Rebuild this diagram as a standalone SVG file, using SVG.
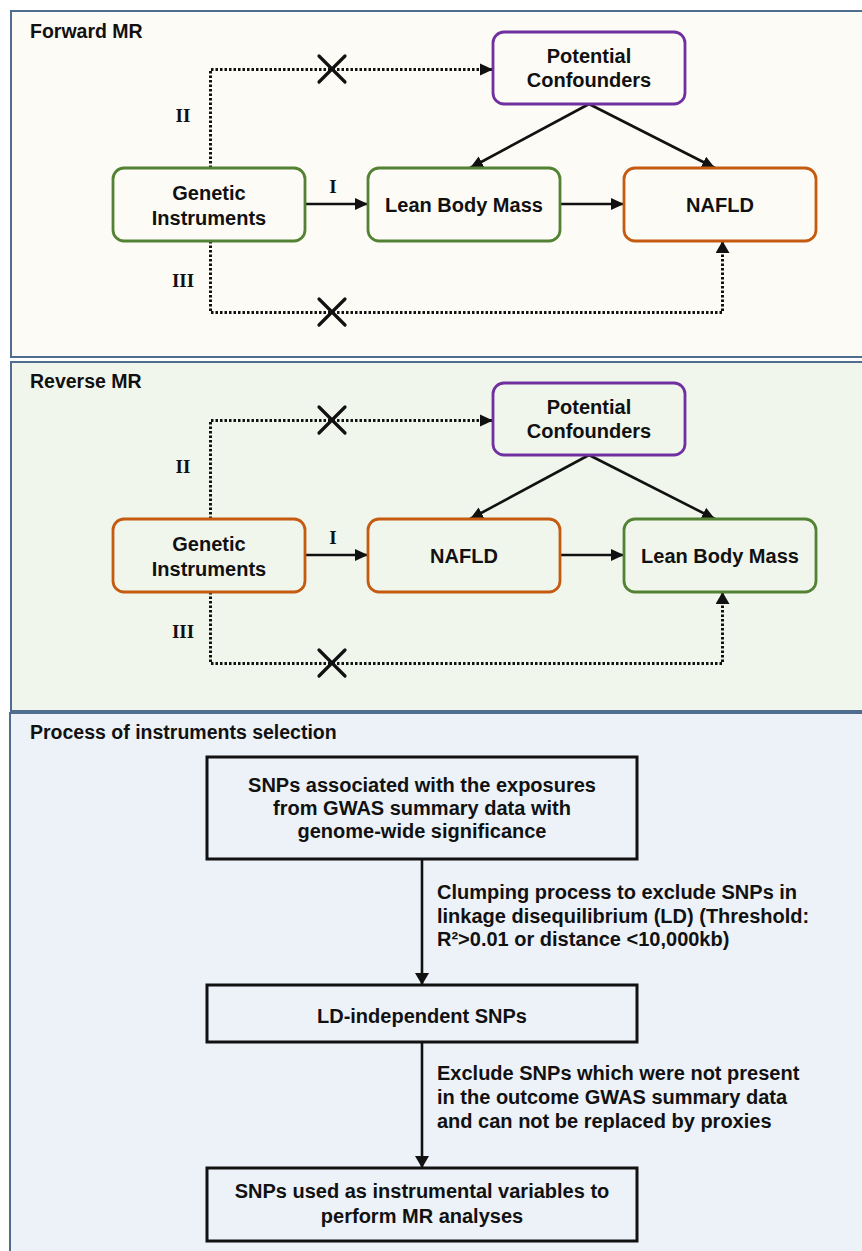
<svg xmlns="http://www.w3.org/2000/svg" width="862" height="1251" viewBox="0 0 862 1251">
<style>
.panel{stroke:#4f6d8f;stroke-width:2}
.h{font-family:"Liberation Sans",Arial,sans-serif;font-weight:bold;font-size:19.5px;fill:#111}
.t3{font-family:"Liberation Sans",Arial,sans-serif;font-weight:bold;font-size:20px;fill:#111}
.c{text-anchor:middle}
.n{font-family:"Liberation Sans",Arial,sans-serif;font-weight:bold;font-size:20px;fill:#111;text-anchor:middle}
.r{font-family:"Liberation Serif","Times New Roman",serif;font-weight:bold;font-size:19px;fill:#111;text-anchor:middle}
.box{stroke-width:2.8}
.g{stroke:#548235}
.o{stroke:#c55a11}
.p{stroke:#7030a0}
.sq{fill:none;stroke:#111;stroke-width:3}
.solid{fill:none;stroke:#111;stroke-width:2.6}
.dot{fill:none;stroke:#111;stroke-width:3;stroke-dasharray:2.5 2}
.x{stroke:#111;stroke-width:3.2;stroke-linecap:round}
</style>
<defs>
<marker id="ah" viewBox="0 0 13 13" refX="13" refY="6.5" markerWidth="13" markerHeight="13" markerUnits="userSpaceOnUse" orient="auto">
<path d="M0,0.5 L13,6.5 L0,12.5 z" fill="#111"/>
</marker>
<marker id="ah2" viewBox="0 0 12 14" refX="12" refY="7" markerWidth="12" markerHeight="14" markerUnits="userSpaceOnUse" orient="auto">
<path d="M0,0 L12,7 L0,14 z" fill="#111"/>
</marker>
</defs>
<rect width="862" height="1251" fill="#ffffff"/>

<g id="panel-forward">
<rect class="panel" x="11" y="11" width="870" height="346" fill="#fdfbf5"/>
<text class="h" x="30" y="38">Forward MR</text>
</g>
<g id="panel-reverse">
<rect class="panel" x="11" y="362" width="870" height="349" fill="#f1f6ed"/>
<text class="h" x="30" y="388">Reverse MR</text>
</g>
<g id="panel-process">
<rect class="panel" x="10" y="713" width="870" height="545" fill="#edf1f8"/>
<text class="h" x="30" y="739">Process of instruments selection</text>
</g>

<g id="connectors">
<!-- Forward -->
<line class="solid" x1="305" y1="204" x2="368" y2="204" marker-end="url(#ah)"/>
<line class="solid" x1="560" y1="204" x2="624" y2="204" marker-end="url(#ah)"/>
<line class="solid" x1="589" y1="104" x2="470" y2="168" marker-end="url(#ah)"/>
<line class="solid" x1="589" y1="104" x2="715" y2="168" marker-end="url(#ah)"/>
<polyline class="dot" points="210.5,168 210.5,69.5 493,69.5" marker-end="url(#ah)"/>
<polyline class="dot" points="210.5,241 210.5,312.5 722.5,312.5 722.5,241" marker-end="url(#ah2)"/>
<path class="x" d="M319,56 L345,82 M345,56 L319,82"/>
<path class="x" d="M319,299 L345,325 M345,299 L319,325"/>
<text class="r" x="333" y="193">I</text>
<text class="r" x="183" y="122">II</text>
<text class="r" x="183" y="287">III</text>
<!-- Reverse -->
<line class="solid" x1="305" y1="555" x2="368" y2="555" marker-end="url(#ah)"/>
<line class="solid" x1="560" y1="555" x2="624" y2="555" marker-end="url(#ah)"/>
<line class="solid" x1="589" y1="455" x2="470" y2="519" marker-end="url(#ah)"/>
<line class="solid" x1="589" y1="455" x2="715" y2="519" marker-end="url(#ah)"/>
<polyline class="dot" points="210.5,519 210.5,420.5 493,420.5" marker-end="url(#ah)"/>
<polyline class="dot" points="210.5,592 210.5,663.5 722.5,663.5 722.5,592" marker-end="url(#ah2)"/>
<path class="x" d="M319,407 L345,433 M345,407 L319,433"/>
<path class="x" d="M319,650 L345,676 M345,650 L319,676"/>
<text class="r" x="333" y="544">I</text>
<text class="r" x="183" y="473">II</text>
<text class="r" x="183" y="638">III</text>
<!-- Process -->
<line class="solid" x1="422" y1="859" x2="422" y2="985" marker-end="url(#ah2)"/>
<line class="solid" x1="422" y1="1042" x2="422" y2="1168" marker-end="url(#ah2)"/>
<text class="t3" x="437" y="899">Clumping process to exclude SNPs in</text>
<text class="t3" x="437" y="923">linkage disequilibrium (LD) (Threshold:</text>
<text class="t3" x="437" y="946">R²&gt;0.01 or distance &lt;10,000kb)</text>
<text class="t3" x="437" y="1080">Exclude SNPs which were not present</text>
<text class="t3" x="437" y="1104">in the outcome GWAS summary data</text>
<text class="t3" x="437" y="1128">and can not be replaced by proxies</text>
</g>

<g id="f-genetic">
<rect class="box g" x="113" y="168" width="192" height="73" rx="11" fill="#fdfbf5"/>
<text class="n" x="209" y="200">Genetic</text>
<text class="n" x="209" y="225">Instruments</text>
</g>
<g id="f-lean">
<rect class="box g" x="368" y="168" width="192" height="73" rx="11" fill="#fdfbf5"/>
<text class="n" x="464" y="212">Lean Body Mass</text>
</g>
<g id="f-nafld">
<rect class="box o" x="624" y="168" width="192" height="73" rx="11" fill="#fdfbf5"/>
<text class="n" x="720" y="212">NAFLD</text>
</g>
<g id="f-conf">
<rect class="box p" x="493" y="32" width="192" height="72" rx="11" fill="#fdfbf5"/>
<text class="n" x="589" y="63">Potential</text>
<text class="n" x="589" y="87">Confounders</text>
</g>

<g id="r-genetic">
<rect class="box o" x="113" y="519" width="192" height="73" rx="11" fill="#f1f6ed"/>
<text class="n" x="209" y="551">Genetic</text>
<text class="n" x="209" y="576">Instruments</text>
</g>
<g id="r-nafld">
<rect class="box o" x="368" y="519" width="192" height="73" rx="11" fill="#f1f6ed"/>
<text class="n" x="464" y="563">NAFLD</text>
</g>
<g id="r-lean">
<rect class="box g" x="624" y="519" width="192" height="73" rx="11" fill="#f1f6ed"/>
<text class="n" x="720" y="563">Lean Body Mass</text>
</g>
<g id="r-conf">
<rect class="box p" x="493" y="383" width="192" height="72" rx="11" fill="#f1f6ed"/>
<text class="n" x="589" y="414">Potential</text>
<text class="n" x="589" y="438">Confounders</text>
</g>

<g id="p-snps">
<rect class="sq" x="207" y="757" width="430" height="102" fill="#edf1f8"/>
<text class="t3 c" x="422" y="792">SNPs associated with the exposures</text>
<text class="t3 c" x="422" y="815">from GWAS summary data with</text>
<text class="t3 c" x="422" y="838">genome-wide significance</text>
</g>
<g id="p-ld">
<rect class="sq" x="207" y="985" width="430" height="57" fill="#edf1f8"/>
<text class="t3 c" x="422" y="1023">LD-independent SNPs</text>
</g>
<g id="p-iv">
<rect class="sq" x="207" y="1168" width="430" height="73" fill="#edf1f8"/>
<text class="t3 c" x="422" y="1198">SNPs used as instrumental variables to</text>
<text class="t3 c" x="422" y="1223">perform MR analyses</text>
</g>
</svg>
